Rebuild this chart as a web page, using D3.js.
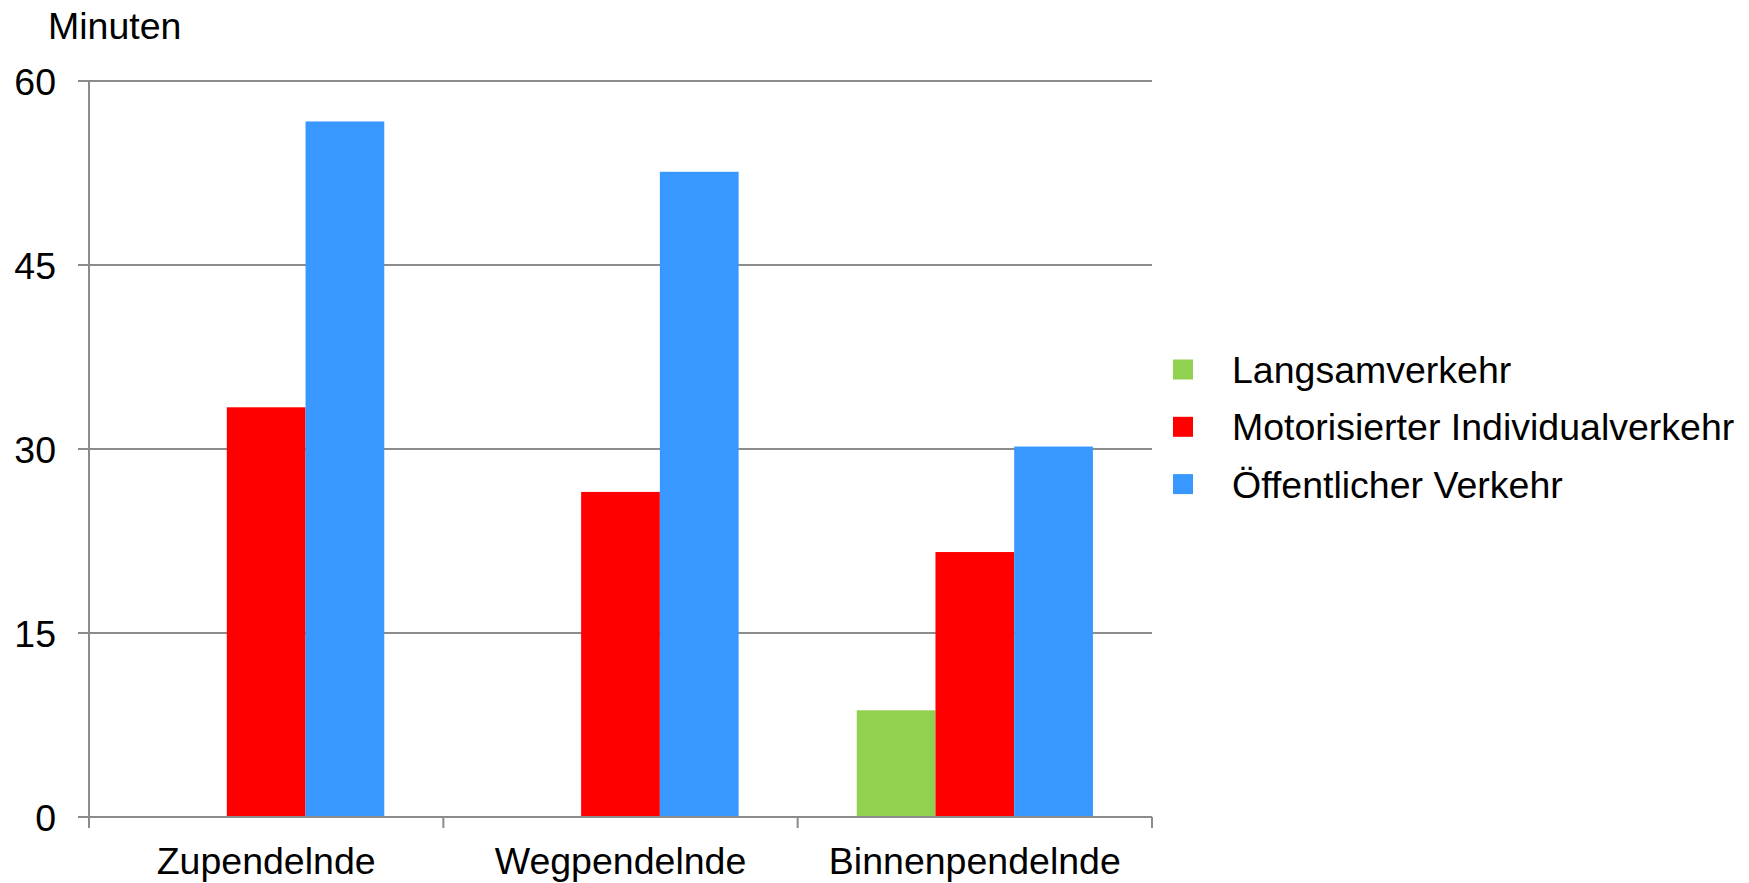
<!DOCTYPE html>
<html><head><meta charset="utf-8">
<script src="https://cdn.jsdelivr.net/npm/d3@7"></script>
<style>body{margin:0;background:#fff}svg{display:block}text{font-family:"Liberation Sans",Arial,sans-serif;fill:#000}</style>
</head><body>
<svg id="c" width="1749" height="883"></svg>
<script>
const categories = ["Zupendelnde", "Wegpendelnde", "Binnenpendelnde"];
const seriesNames = ["Langsamverkehr", "Motorisierter Individualverkehr", "Öffentlicher Verkehr"];
const langsam = [null, null, 8.7];
const miv = [33.4, 26.5, 21.6];
const oev = [56.7, 52.6, 30.2];
const yTicks = [0, 15, 30, 45, 60];
const colors = ["#92d050", "#ff0000", "#3898ff"];
const yLabel = "Minuten";

const seriesValues = [langsam, miv, oev];
const svg = d3.select("#c");
const L = 89, R = 1152, T = 81, B = 817;
const fs = 37.5;
const x = d3.scaleBand().domain(categories).range([L, R]).paddingInner(0).paddingOuter(0);
const inner = d3.scaleBand().domain(seriesNames).range([x.bandwidth()*0.1667, x.bandwidth()*0.8333]).padding(0);
const y = d3.scaleLinear().domain([0, 60]).range([B, T]);
const grid = "#8c8c8c";

// gridlines + y ticks
svg.append("g").selectAll("line").data(yTicks).join("line")
  .attr("x1", L - 11).attr("x2", R).attr("y1", d => y(d)).attr("y2", d => y(d))
  .attr("stroke", grid).attr("stroke-width", 2);
svg.append("g").selectAll("text").data(yTicks).join("text")
  .attr("x", 56).attr("y", d => y(d) + 13.5).attr("text-anchor", "end")
  .attr("font-size", fs).text(d => d);

// bars
const data = [];
categories.forEach((c, i) => seriesNames.forEach((s, j) => {
  const v = seriesValues[j][i];
  if (v != null) data.push({c, s, v, j});
}));
svg.append("g").selectAll("rect").data(data).join("rect")
  .attr("x", d => x(d.c) + inner(d.s)).attr("width", inner.bandwidth())
  .attr("y", d => y(d.v)).attr("height", d => y(0) - y(d.v))
  .attr("fill", d => colors[d.j]);

// axes lines
svg.append("line").attr("x1", L).attr("x2", L).attr("y1", T).attr("y2", B + 11).attr("stroke", grid).attr("stroke-width", 2);
svg.append("line").attr("x1", L - 11).attr("x2", R).attr("y1", B).attr("y2", B).attr("stroke", grid).attr("stroke-width", 2);
const xt = categories.map(c => x(c)).concat([R]);
svg.append("g").selectAll("line").data(xt).join("line")
  .attr("x1", d => d).attr("x2", d => d).attr("y1", B).attr("y2", B + 11)
  .attr("stroke", grid).attr("stroke-width", 2);
svg.append("g").selectAll("text").data(categories).join("text")
  .attr("x", d => x(d) + x.bandwidth()/2).attr("y", 874).attr("text-anchor", "middle")
  .attr("font-size", fs).text(d => d);

svg.append("text").attr("x", 48).attr("y", 39).attr("font-size", fs).text(yLabel);

// legend
const lg = svg.append("g").selectAll("g").data(seriesNames).join("g")
  .attr("transform", (d, i) => `translate(1173, ${369.5 + i * 57.3})`);
lg.append("rect").attr("x", 0).attr("y", -10).attr("width", 20).attr("height", 20).attr("fill", (d, i) => colors[i]);
lg.append("text").attr("x", 59).attr("y", 13.5).attr("font-size", fs).text(d => d);
</script>
</body></html>
